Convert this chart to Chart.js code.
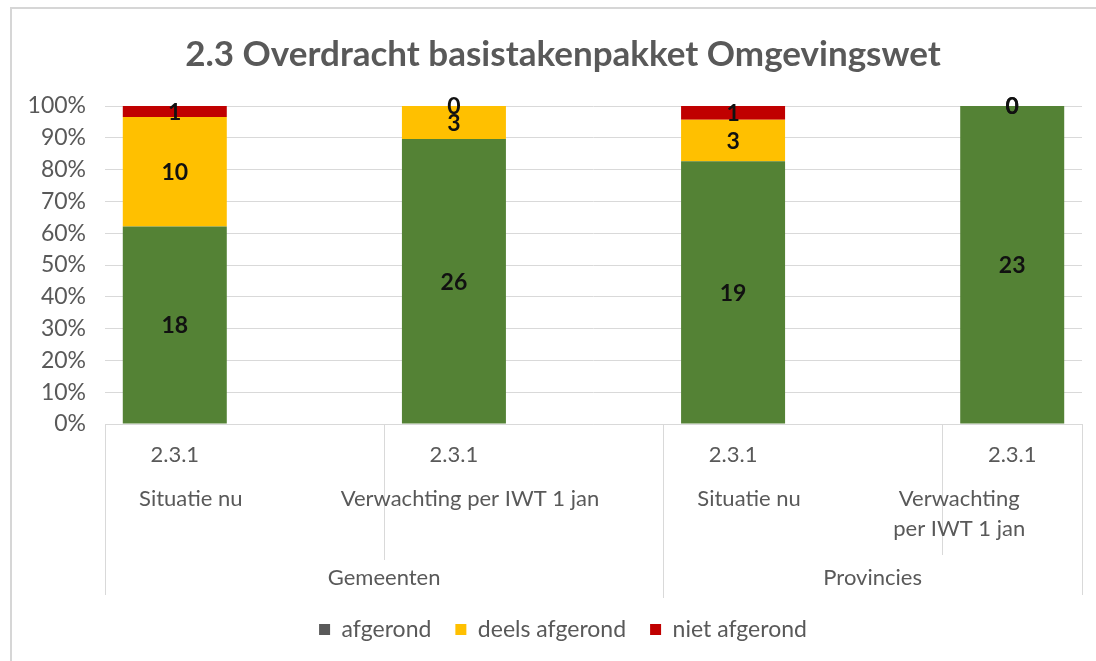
<!DOCTYPE html>
<html>
<head>
<meta charset="utf-8">
<script src="https://cdn.jsdelivr.net/npm/chart.js@4.4.1/dist/chart.umd.min.js"></script>
<style>
  html, body { margin: 0; padding: 0; background: #fff; }
  #wrap { position: relative; width: 1096px; height: 661px; }
  #frame { position: absolute; left: 10px; top: 7px; right: 0; bottom: 0;
           border-top: 2px solid #d6d6d6; border-left: 2px solid #d6d6d6; pointer-events: none; }
</style>
</head>
<body>
<div id="wrap">
  <canvas id="chart" width="1096" height="661"></canvas>
  <div id="frame"></div>
</div>
<script>
// data
const codes = ['2.3.1', '2.3.1', '2.3.1', '2.3.1'];
const categories = [['Situatie nu'], ['Verwachting per IWT 1 jan'], ['Situatie nu'], ['Verwachting', 'per IWT 1 jan']];
const groups = ['Gemeenten', 'Provincies'];
const groupSizes = [2, 2];
const afgerond = [18, 26, 19, 23];
const deelsAfgerond = [10, 3, 3, 0];
const nietAfgerond = [1, 0, 1, 0];
const yTicks = [0, 10, 20, 30, 40, 50, 60, 70, 80, 90, 100];

const FONT = 'Lato, Calibri, sans-serif';
const GREY = '#595959';
const LINE = '#d9d9d9';

const totals = afgerond.map((v, i) => v + deelsAfgerond[i] + nietAfgerond[i]);
function toPoints(arr) {
  return arr.map((v, i) => ({ x: i, y: v / totals[i] * 100, count: v }));
}

// draws the counts inside the bar segments
const segmentLabels = {
  id: 'segmentLabels',
  afterDatasetsDraw(chart) {
    const ctx = chart.ctx;
    ctx.save();
    ctx.font = 'bold 23px ' + FONT;
    ctx.fillStyle = '#111';
    ctx.textAlign = 'center';
    ctx.textBaseline = 'middle';
    chart.data.datasets.forEach((ds, di) => {
      chart.getDatasetMeta(di).data.forEach((bar, i) => {
        const y = (bar.y + bar.base) / 2;
        ctx.fillText(String(ds.data[i].count), bar.x, y + 1);
      });
    });
    ctx.restore();
  }
};

// multi-level category axis under the plot
const multiAxis = {
  id: 'multiAxis',
  afterDraw(chart) {
    const ctx = chart.ctx;
    const xs = chart.scales.x;
    const area = chart.chartArea;
    const b = area.bottom;
    ctx.save();
    ctx.strokeStyle = LINE;
    ctx.lineWidth = 1;

    // axis line
    ctx.beginPath();
    ctx.moveTo(area.left, b + 0.5);
    ctx.lineTo(area.right, b + 0.5);
    ctx.stroke();

    // dividers
    const divs = [[-0.25, 595], [0.75, 560], [1.75, 598], [2.75, 555], [3.25, 595]];
    divs.forEach(d => {
      const px = Math.round(xs.getPixelForValue(d[0])) + 0.5;
      ctx.beginPath();
      ctx.moveTo(px, b);
      ctx.lineTo(px, d[1]);
      ctx.stroke();
    });

    ctx.fillStyle = GREY;
    ctx.font = '22px ' + FONT;
    ctx.textAlign = 'center';
    ctx.textBaseline = 'middle';
    const nameShift = [16, 16, 16, -53];
    codes.forEach((c, i) => {
      const px = xs.getPixelForValue(i);
      ctx.fillText(c, px, 455);
      categories[i].forEach((line, li) => {
        ctx.fillText(line, px + nameShift[i], 499 + li * 30);
      });
    });

    let start = 0;
    groups.forEach((g, gi) => {
      const end = start + groupSizes[gi];
      const from = Math.max(start - 0.25, xs.min);
      const to = Math.min(end - 0.25, xs.max);
      const px = (xs.getPixelForValue(from) + xs.getPixelForValue(to)) / 2;
      ctx.fillText(g, px, 578);
      start = end;
    });
    ctx.restore();
  }
};

new Chart(document.getElementById('chart').getContext('2d'), {
  type: 'bar',
  data: {
    datasets: [
      { label: 'afgerond', data: toPoints(afgerond), backgroundColor: '#548235' },
      { label: 'deels afgerond', data: toPoints(deelsAfgerond), backgroundColor: '#ffc000' },
      { label: 'niet afgerond', data: toPoints(nietAfgerond), backgroundColor: '#c00000' }
    ]
  },
  options: {
    responsive: false,
    animation: false,
    // the original chart is cut off on the right, so title and legend sit right of centre
    layout: { padding: { top: 0, left: 0, right: -30, bottom: 10 } },
    datasets: { bar: { barThickness: 104, borderWidth: 0, inflateAmount: 0 } },
    scales: {
      x: {
        type: 'linear',
        stacked: true,
        offset: false,
        min: -0.25,
        max: 3.25,
        grid: { display: false },
        border: { display: false },
        ticks: { display: false },
        afterFit(scale) { scale.height = 170; }
      },
      y: {
        stacked: true,
        min: 0,
        max: 100,
        afterFit(scale) { scale.width = 105; },
        afterBuildTicks(scale) { scale.ticks = yTicks.map(v => ({ value: v })); },
        grid: { color: LINE, drawTicks: false },
        border: { display: false },
        ticks: {
          autoSkip: false,
          padding: 19,
          color: GREY,
          font: { family: FONT, size: 23 },
          callback: v => v + '%'
        }
      },
      yRight: {
        type: 'linear',
        position: 'right',
        grid: { display: false },
        border: { display: false },
        ticks: { display: false },
        afterFit(scale) { scale.width = 44; }
      }
    },
    plugins: {
      title: {
        display: true,
        text: '2.3 Overdracht basistakenpakket Omgevingswet',
        color: GREY,
        font: { family: FONT, size: 35, weight: 'bold' },
        padding: { top: 34, bottom: 30 }
      },
      legend: {
        position: 'bottom',
        labels: {
          color: GREY,
          font: { family: FONT, size: 23 },
          boxWidth: 11,
          boxHeight: 11,
          padding: 24,
          generateLabels(chart) {
            const items = Chart.defaults.plugins.legend.labels.generateLabels(chart);
            items[0].fillStyle = GREY;
            items.forEach(it => { it.lineWidth = 0; it.strokeStyle = 'transparent'; });
            return items;
          }
        }
      },
      tooltip: { enabled: false }
    }
  },
  plugins: [segmentLabels, multiAxis]
});
</script>
</body>
</html>
